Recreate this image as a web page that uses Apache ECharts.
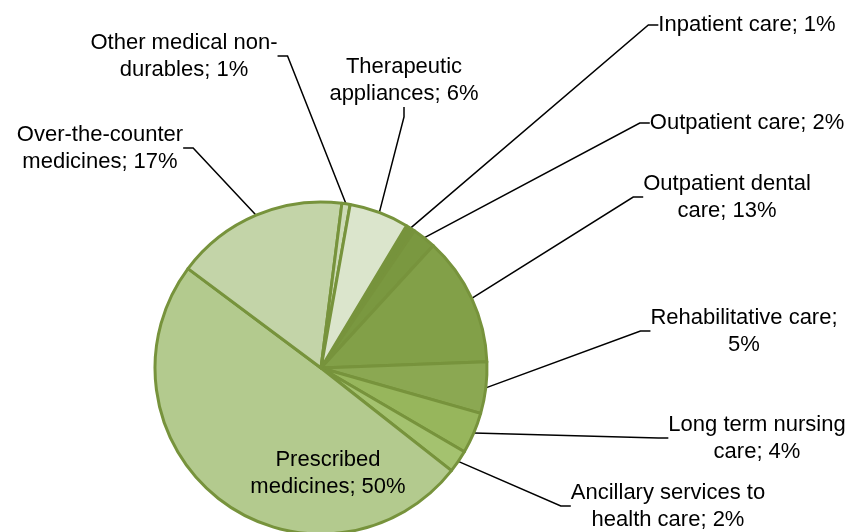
<!DOCTYPE html>
<html>
<head>
<meta charset="utf-8">
<script src="https://cdn.jsdelivr.net/npm/echarts@6/dist/echarts.min.js"></script>
<style>
html, body { margin: 0; padding: 0; background: #fff; }
#chart { width: 855px; height: 532px; }
</style>
</head>
<body>
<div id="chart"></div>
<script>
// categories, clockwise from the inpatient slice
var categories = [
    'Inpatient care',
    'Outpatient care',
    'Outpatient dental\ncare',
    'Rehabilitative care',
    'Long term nursing\ncare',
    'Ancillary services to\nhealth care',
    'Prescribed\nmedicines',
    'Over-the-counter\nmedicines',
    'Other medical non-\ndurables',
    'Therapeutic\nappliances'
];
// share of spending, %
var shares = [0.9, 2.3, 12.6, 5.0, 4.0, 2.2, 49.6, 16.8, 0.8, 5.8];

// slice fills (same order)
var colors = ['#76933c', '#7a9840', '#82a048', '#8ba852', '#97b65c', '#a4c26f',
    '#b3ca8e', '#c3d4a8', '#cddbb6', '#dbe5cc'];

// where each label block sits (center x, middle y)
var labelPos = [
    [747, 25], [747, 123], [727, 197], [744, 331], [757, 438],
    [668, 506], [328, 473], [100, 148], [184, 56], [404, 80]
];

var chart = echarts.init(document.getElementById('chart'));

var data = categories.map(function (c, i) {
    var item = {
        name: c,
        value: shares[i],
        itemStyle: { color: colors[i] }
    };
    if (i === 6) {
        item.labelLine = { show: false };
    }
    return item;
});

var option = {
    animation: false,
    series: [{
        type: 'pie',
        center: [321, 368],
        radius: 166,
        startAngle: 59,
        clockwise: true,
        data: data,
        itemStyle: {
            borderColor: '#77933c',
            borderWidth: 3
        },
        label: {
            show: true,
            color: '#000',
            fontFamily: 'Liberation Sans, Arial, sans-serif',
            fontSize: 22,
            lineHeight: 27,
            align: 'center',
            formatter: function (p) {
                var sep = p.name === 'Rehabilitative care' ? ';\n' : '; ';
                return p.name + sep + Math.round(p.value) + '%';
            }
        },
        labelLine: {
            show: true,
            length: 20,
            length2: 10,
            lineStyle: { color: '#000', width: 1.5 }
        },
        labelLayout: function (params) {
            var pos = labelPos[params.dataIndex];
            return {
                x: pos[0],
                y: pos[1],
                align: 'center',
                verticalAlign: 'middle'
            };
        },
        emphasis: { disabled: true }
    }]
};

chart.setOption(option);
</script>
</body>
</html>
